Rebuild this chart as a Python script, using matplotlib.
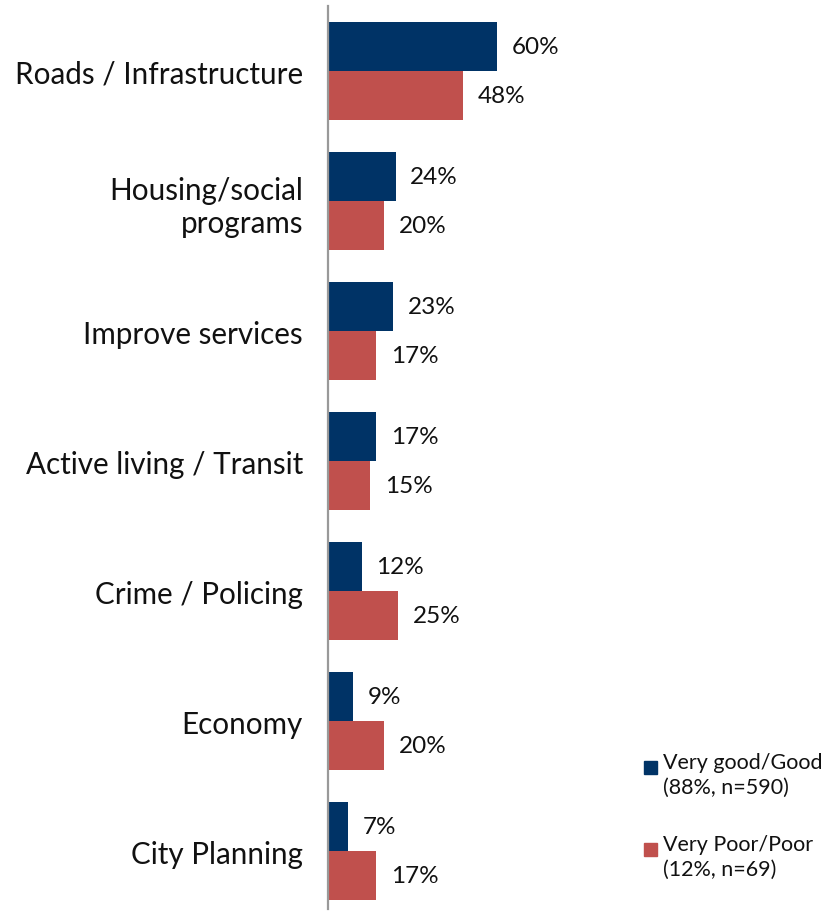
import numpy as np
import matplotlib.pyplot as plt
from matplotlib.patches import Rectangle

categories = ['Roads / Infrastructure', 'Housing/social\nprograms', 'Improve services',
              'Active living / Transit', 'Crime / Policing', 'Economy', 'City Planning']
good = [60, 24, 23, 17, 12, 9, 7]
poor = [48, 20, 17, 15, 25, 20, 17]
series_names = ['Very good/Good\n(88%, n=590)', 'Very Poor/Poor\n(12%, n=69)']
colors = ['#003366', '#C0504D']

plt.rcParams['font.family'] = ['Lato', 'DejaVu Sans']

fig = plt.figure(figsize=(8.27, 9.12), dpi=100)
ax = fig.add_axes([328 / 827, 2 / 912, 499 / 827, 903 / 912])

y = np.arange(len(categories))
h = 0.38
b1 = ax.barh(y - h / 2, good, height=h, color=colors[0])
b2 = ax.barh(y + h / 2, poor, height=h, color=colors[1])

for bars, vals in [(b1, good), (b2, poor)]:
    for bar, v in zip(bars, vals):
        ax.text(bar.get_width() + 5.2, bar.get_y() + bar.get_height() / 2, f'{v}%',
                va='center', ha='left', fontsize=17.5, color='#111111')

ax.set_xlim(0, 177)
ax.set_ylim(len(categories) - 0.554, -0.5)
ax.set_yticks(y)
ax.set_yticklabels(categories, fontsize=21.3, color='#111111', ha='right', linespacing=1.25)
ax.tick_params(axis='y', length=0, pad=18)
ax.set_xticks([])
for s in ['top', 'right', 'bottom']:
    ax.spines[s].set_visible(False)
ax.spines['left'].set_color('#999999')
ax.spines['left'].set_linewidth(1.6)

# legend drawn by hand so the swatch sits beside the first line
for i, (name, c) in enumerate(zip(series_names, colors)):
    top = 762 + i * 82
    fig.add_artist(Rectangle((644 / 827, 1 - (top + 13) / 912), 13 / 827, 13 / 912,
                             transform=fig.transFigure, color=c))
    fig.text(663 / 827, 1 - (top - 9) / 912, name, fontsize=15.5, va='top', ha='left',
             color='#111111', linespacing=1.3)

fig.savefig('out.png', dpi=100)
